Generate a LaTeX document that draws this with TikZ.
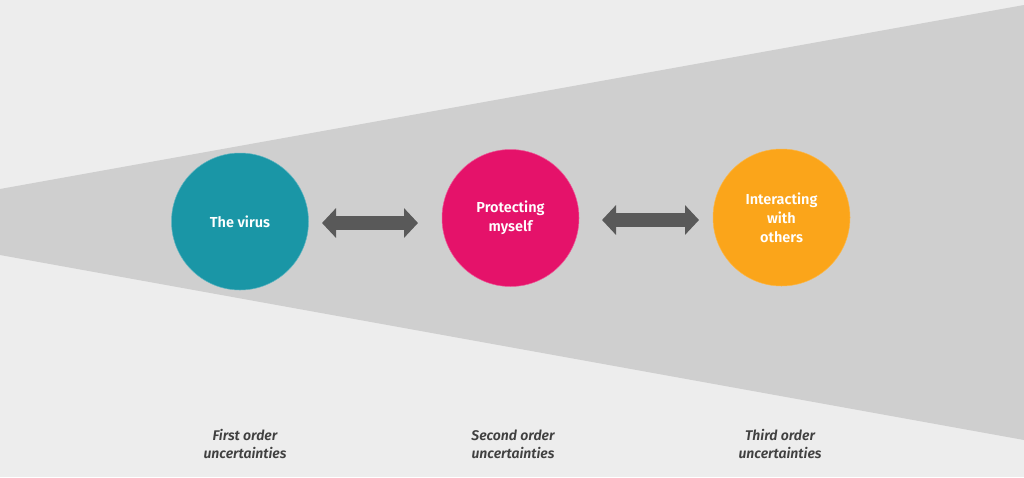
\documentclass[tikz,border=0pt]{standalone}
\usepackage{fontspec}
\setmainfont{Fira Sans}[BoldFont={Fira Sans SemiBold},BoldItalicFont={Fira Sans SemiBold Italic}]
\usetikzlibrary{arrows.meta}
\definecolor{bg}{HTML}{EDEDED}
\definecolor{wedge}{HTML}{CFCFCF}
\definecolor{teal1}{HTML}{1A96A6}
\definecolor{pink1}{HTML}{E5126A}
\definecolor{orange1}{HTML}{FBA51A}
\definecolor{arrowgrey}{HTML}{595959}
\definecolor{labelgrey}{HTML}{404040}
\tikzset{
  topic/.style={circle, minimum size=137pt, inner sep=0pt, text=white, align=center,
    font=\fontsize{14.5}{19}\selectfont\bfseries},
  dblarrow/.style={arrowgrey, line width=14pt,
    {Triangle[length=14pt,width=29pt]}-{Triangle[length=14pt,width=29pt]}},
  orderlabel/.style={text=labelgrey, align=center, font=\fontsize{14}{18}\selectfont\itshape\bfseries}
}
\begin{document}
\begin{tikzpicture}[x=1pt,y=-1pt]
\fill[bg] (0,0) rectangle (1024,477);
\useasboundingbox (0,0) rectangle (1024,477);
\fill[wedge] (0,189) -- (1024,5) -- (1024,440) -- (0,255) -- cycle;
\node[topic, fill=teal1, draw=teal1!70!white, line width=0.5pt] (virus) at (240,221.5) {The virus};
\node[topic, fill=pink1, draw=pink1!70!white, line width=0.5pt] (protect) at (510.5,218) {Protecting\\myself};
\node[topic, fill=orange1, draw=orange1!80!white, line width=0.5pt] (interact) at (781.5,217.5) {Interacting\\with\\others};
\coordinate (a1l) at (322,223);
\coordinate (a1r) at (418,223);
\coordinate (a2l) at (602,220);
\coordinate (a2r) at (699,220);
\draw[dblarrow] (a1l) -- (a1r);
\draw[dblarrow] (a2l) -- (a2r);
\node[orderlabel] (first) at (245,444) {First order\\uncertainties};
\node[orderlabel] (second) at (513,444) {Second order\\uncertainties};
\node[orderlabel] (third) at (780,444) {Third order\\uncertainties};
\end{tikzpicture}
\end{document}
